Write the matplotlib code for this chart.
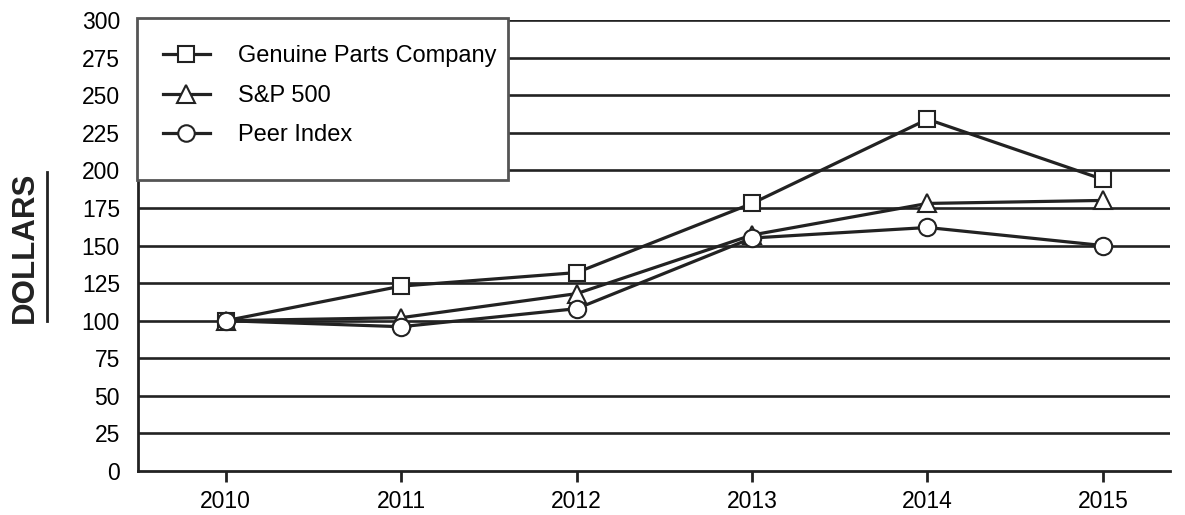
import matplotlib
matplotlib.use("Agg")
import matplotlib.pyplot as plt
from matplotlib.lines import Line2D
from matplotlib.patches import Rectangle

plt.rcParams['font.family'] = ['Liberation Sans', 'DejaVu Sans']

years = [2010, 2011, 2012, 2013, 2014, 2015]
gpc = [100, 123, 132, 178, 234, 194]
sp500 = [100, 102, 118, 157, 178, 180]
peer = [100, 96, 108, 155, 162, 150]
yticks = list(range(0, 301, 25))

fig = plt.figure(figsize=(11.85, 5.15), dpi=100)
ax = fig.add_axes([0.1165, 0.0854, 0.8705, 0.8757])

col = '#222222'
for v in yticks[1:]:
    ax.axhline(v, color=col, lw=1.9, zorder=1)

ms = dict(markerfacecolor='white', markeredgecolor=col, markeredgewidth=1.5)
ax.plot(years, gpc, color=col, lw=2.3, marker='s', markersize=12, label='Genuine Parts Company', zorder=3, **ms)
ax.plot(years, sp500, color=col, lw=2.3, marker='^', markersize=13, label='S&P 500', zorder=3, **ms)
ax.plot(years, peer, color=col, lw=2.3, marker='o', markersize=12.5, label='Peer Index', zorder=3, **ms)

ax.set_xlim(2009.5, 2015.38)
ax.set_ylim(0, 300)
ax.set_yticks(yticks)
ax.set_xticks(years)
ax.tick_params(axis='y', length=0, pad=13, labelsize=16.5)
ax.tick_params(axis='x', length=8, width=2, direction='out', pad=6, labelsize=16.5, color=col)
for s in ['top', 'right']:
    ax.spines[s].set_visible(False)
for s in ['left', 'bottom']:
    ax.spines[s].set_linewidth(2)
    ax.spines[s].set_color(col)

# legend box
ax.add_patch(Rectangle((-0.001, 0.645), 0.3595, 0.3594, transform=ax.transAxes,
                       facecolor='white', edgecolor='#555555', lw=2, zorder=4, clip_on=False))
leg = ax.legend(loc='upper left', bbox_to_anchor=(0.002, 0.9933), borderaxespad=0,
                fontsize=17, handlelength=2.0, handletextpad=1.2, labelspacing=0.74,
                borderpad=0.95, frameon=False, markerscale=0.95)
leg.set_zorder(5)

fig.text(0.021, 0.5204, 'DOLLARS', rotation=90, ha='center', va='center',
         fontsize=22.5, fontweight='bold', color=col)
fig.add_artist(Line2D([47/1185, 47/1185], [1 - 321/515, 1 - 172/515],
                      transform=fig.transFigure, color=col, lw=2))

fig.savefig('out.png', dpi=100)
